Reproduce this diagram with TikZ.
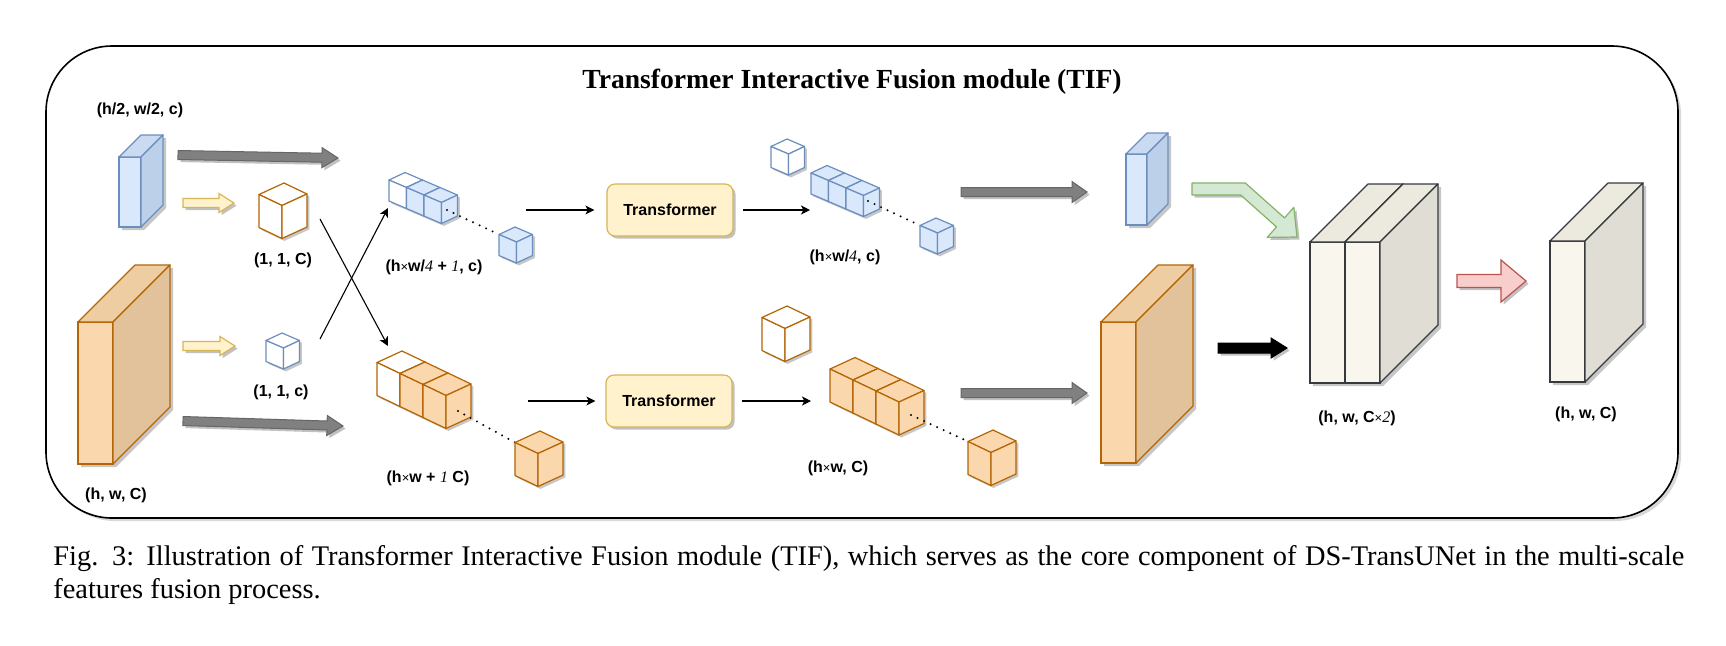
\documentclass[tikz,border=0pt]{standalone}
\usepackage{fontspec}
\setmainfont{Liberation Serif}
\setsansfont{Liberation Sans}
\usetikzlibrary{arrows.meta, calc, shadows}

\definecolor{blueF}{HTML}{DAE8FC}
\definecolor{blueT}{HTML}{C9DAF1}
\definecolor{blueS}{HTML}{BDD0EA}
\definecolor{blueL}{HTML}{6C8EBF}
\definecolor{orangeF}{HTML}{FAD7AC}
\definecolor{orangeT}{HTML}{EFCDA2}
\definecolor{orangeS}{HTML}{E2C29B}
\definecolor{orangeL}{HTML}{B46504}
\definecolor{paperF}{HTML}{F9F7ED}
\definecolor{paperT}{HTML}{ECEADF}
\definecolor{paperS}{HTML}{E0DED4}
\definecolor{paperL}{HTML}{36393D}
\definecolor{yellowF}{HTML}{FFF2CC}
\definecolor{yellowL}{HTML}{D6B656}
\definecolor{greenF}{HTML}{D5E8D4}
\definecolor{greenL}{HTML}{82B366}
\definecolor{redF}{HTML}{F8CECC}
\definecolor{redL}{HTML}{B85450}

\tikzset{
  small cube/.style={x={(8.75pt,-3.75pt)}, y={(8pt,3.75pt)}, z={(0pt,-10.5pt)}, line width=0.6pt, line join=round},
  big cube/.style={x={(11.5pt,-5.5pt)}, y={(12.5pt,5.75pt)}, z={(0pt,-16.5pt)}, line width=0.6pt, line join=round},
  cube shadow/.style={fill=black!22, xshift=1.2pt, yshift=-1.2pt},
  slab shadow/.style={fill=black!22, xshift=1.5pt, yshift=-1.5pt},
  soft shadow/.style={drop shadow={shadow xshift=1.3pt, shadow yshift=-1.3pt, fill=black!30, opacity=0.8}},
  grey arrow/.style={fill=black!50, draw=black!60, line width=0.5pt, soft shadow},
  yellow arrow/.style={fill=yellowF, draw=yellowL, line width=0.6pt, soft shadow},
  black arrow/.style={fill=black, draw=black, line width=0.5pt, soft shadow},
  red arrow/.style={fill=redF, draw=redL, line width=0.6pt, soft shadow},
  link/.style={-{Stealth[length=4.5pt, width=4.5pt, inset=1.2pt]}, line width=0.55pt},
  dots/.style={line width=1.1pt, line cap=round, dash pattern=on 0pt off 3.6pt},
  dim/.style={font=\sffamily\bfseries\fontsize{8}{9.6}\selectfont, inner sep=0pt},
  transformer/.style={draw=yellowL, fill=yellowF, rounded corners=4pt, line width=0.6pt,
    minimum width=63pt, minimum height=26pt, soft shadow,
    font=\sffamily\bfseries\fontsize{8}{9.6}\selectfont},
}

% the three visible faces of a cube, drawn in the current x/y/z frame
\newcommand{\cubefaces}{%
  \filldraw (0,0,0) -- (1,0,0) -- (1,-1,0) -- (0,-1,0) -- cycle;
  \filldraw (0,-1,0) -- (1,-1,0) -- (1,-1,1) -- (0,-1,1) -- cycle;
  \filldraw (1,-1,0) -- (1,0,0) -- (1,0,1) -- (1,-1,1) -- cycle;
}
\newcommand{\cubeshadow}[1]{%
  \fill[cube shadow] (0,0,0) -- (#1,0,0) -- (#1,0,1) -- (#1,-1,1) -- (0,-1,1) -- (0,-1,0) -- cycle;
}
% feature map: front top-left x, y, width, height, depth, colour family
\newcommand{\slab}[6]{%
  \fill[slab shadow] (#1,#2+#4) -- (#1,#2) -- (#1+#5,#2-#5) -- (#1+#3+#5,#2-#5) -- (#1+#3+#5,#2+#4-#5) -- (#1+#3,#2+#4) -- cycle;
  \filldraw[draw=#6L, fill=#6F, line width=0.6pt] (#1,#2) rectangle (#1+#3,#2+#4);
  \filldraw[draw=#6L, fill=#6T, line width=0.6pt, line join=round] (#1,#2) -- (#1+#5,#2-#5) -- (#1+#3+#5,#2-#5) -- (#1+#3,#2) -- cycle;
  \filldraw[draw=#6L, fill=#6S, line width=0.6pt, line join=round] (#1+#3,#2) -- (#1+#3+#5,#2-#5) -- (#1+#3+#5,#2+#4-#5) -- (#1+#3,#2+#4) -- cycle;
}
% block arrow: style, tail, tip, half shaft, half head, head length
\newcommand{\blockarrow}[6]{%
  \coordinate (ba-h) at ($(#3)!#6!(#2)$);
  \filldraw[#1] ($(#2)!#4!90:(#3)$) -- ($(ba-h)!#4!90:(#3)$) -- ($(ba-h)!#5!90:(#3)$) -- (#3)
    -- ($(ba-h)!#5!-90:(#3)$) -- ($(ba-h)!#4!-90:(#3)$) -- ($(#2)!#4!-90:(#3)$) -- cycle;
}
\newcommand{\tnum}[1]{{\rmfamily\mdseries\itshape #1}}
\newcommand{\tx}{{\mdseries\fontsize{6.5}{7}\selectfont ×}}

\begin{document}
\begin{tikzpicture}[x=0.5pt, y=-0.5pt]
\useasboundingbox (0,0) rectangle (1726,645);
\fill[white] (0,0) rectangle (1726,645);

% Frame
\draw[line width=0.8pt, rounded corners=33pt, drop shadow={shadow xshift=1.5pt, shadow yshift=-1.5pt, fill=black!30}, fill=white]
  (46,46) rectangle (1678,518);
\node[font=\bfseries\fontsize{13.8}{16}\selectfont, anchor=base, inner sep=0pt] (title) at (852,88)
  {Transformer Interactive Fusion module (TIF)};

% Inputs
\slab{119}{157}{22}{70}{22}{blue}
\slab{78}{322}{35}{142}{57}{orange}
\node[dim] (inSmall) at (140,110) {(h/2, w/2, c)};
\node[dim] (inBig) at (116,495) {(h, w, C)};

\blockarrow{grey arrow}{178,155}{338,158}{2.25pt}{5pt}{8pt}
\blockarrow{grey arrow}{183,421}{343,426}{2.25pt}{5pt}{8pt}
\blockarrow{yellow arrow}{183,203}{234,203}{2.25pt}{4.75pt}{7.5pt}
\blockarrow{yellow arrow}{183,346}{235,346}{2.25pt}{4.75pt}{7.5pt}

% Class tokens
\begin{scope}[shift={(284,183)}, big cube, draw=orangeL, fill=white]
  \cubeshadow{1} \cubefaces
\end{scope}
\begin{scope}[shift={(282,333)}, small cube, draw=blueL, fill=white]
  \cubeshadow{1} \cubefaces
\end{scope}
\node[dim] (tokBig) at (283,260) {(1, 1, C)};
\node[dim] (tokSmall) at (281,392) {(1, 1, c)};

% Swapped tokens
\coordinate (crossA1) at (320,219);
\coordinate (crossA2) at (388,346);
\coordinate (crossB1) at (320,339);
\coordinate (crossB2) at (388,208);
\draw[link] (crossA1) -- (crossA2);
\draw[link] (crossB1) -- (crossB2);

% Token sequences in
\begin{scope}[shift={(405,172.5)}, small cube] \cubeshadow{3} \end{scope}
\foreach \i/\col in {0/white,1/blueF,2/blueF}{
  \begin{scope}[shift={(405+17.5*\i,172.5+7.5*\i)}, small cube, draw=blueL, fill=\col]
    \cubefaces
  \end{scope}
}
\coordinate (dotA1) at (447,210);
\coordinate (dotA2) at (499,234.5);
\draw[dots] (dotA1) -- (dotA2);
\begin{scope}[shift={(515,227)}, small cube, draw=blueL, fill=blueF]
  \cubeshadow{1} \cubefaces
\end{scope}
\node[dim] (seqA) at (434,267) {(h\tx w/\tnum{4} + \tnum{1}, c)};

\begin{scope}[shift={(402,351)}, big cube] \cubeshadow{3} \end{scope}
\foreach \i/\col in {0/white,1/orangeF,2/orangeF}{
  \begin{scope}[shift={(402+23*\i,351+11*\i)}, big cube, draw=orangeL, fill=\col]
    \cubefaces
  \end{scope}
}
\coordinate (dotB1) at (458,411);
\coordinate (dotB2) at (515,442.5);
\draw[dots] (dotB1) -- (dotB2);
\begin{scope}[shift={(540,431)}, big cube, draw=orangeL, fill=orangeF]
  \cubeshadow{1} \cubefaces
\end{scope}
\node[dim] (seqB) at (428,478) {(h\tx w + \tnum{1} C)};

% Transformers
\node[transformer] (trA) at (670,210) {Transformer};
\node[transformer] (trB) at (669,401) {Transformer};
\coordinate (inA) at (526,210);
\coordinate (outA) at (810,210);
\coordinate (inB) at (528,401);
\coordinate (outB) at (811,401);
\draw[link, shorten >=6pt] (inA) -- (trA.west);
\draw[link, shorten <=4.5pt] (trA.east) -- (outA);
\draw[link, shorten >=5pt] (inB) -- (trB.west);
\draw[link, shorten <=4.5pt] (trB.east) -- (outB);

% Token sequences out
\begin{scope}[shift={(787,139)}, small cube, draw=blueL, fill=white]
  \cubeshadow{1} \cubefaces
\end{scope}
\begin{scope}[shift={(827,165.5)}, small cube] \cubeshadow{3} \end{scope}
\foreach \i in {0,1,2}{
  \begin{scope}[shift={(827+17.5*\i,165.5+7.5*\i)}, small cube, draw=blueL, fill=blueF]
    \cubefaces
  \end{scope}
}
\coordinate (dotC1) at (868,201);
\coordinate (dotC2) at (920,225.5);
\draw[dots] (dotC1) -- (dotC2);
\begin{scope}[shift={(936,218)}, small cube, draw=blueL, fill=blueF]
  \cubeshadow{1} \cubefaces
\end{scope}
\node[dim] (seqC) at (845,257) {(h\tx w/\tnum{4}, c)};

\begin{scope}[shift={(787,306)}, big cube, draw=orangeL, fill=white]
  \cubeshadow{1} \cubefaces
\end{scope}
\begin{scope}[shift={(855,357.5)}, big cube] \cubeshadow{3} \end{scope}
\foreach \i in {0,1,2}{
  \begin{scope}[shift={(855+23*\i,357.5+11*\i)}, big cube, draw=orangeL, fill=orangeF]
    \cubefaces
  \end{scope}
}
\coordinate (dotD1) at (911,415);
\coordinate (dotD2) at (968,441.5);
\draw[dots] (dotD1) -- (dotD2);
\begin{scope}[shift={(993,430)}, big cube, draw=orangeL, fill=orangeF]
  \cubeshadow{1} \cubefaces
\end{scope}
\node[dim] (seqD) at (838,468) {(h\tx w, C)};

% Reshape and fuse
\blockarrow{grey arrow}{961,192}{1087,192}{2.25pt}{5.25pt}{7.5pt}
\blockarrow{grey arrow}{961,393}{1087,393}{2.25pt}{5.25pt}{7.5pt}
\slab{1126}{154}{21}{71}{21}{blue}
\slab{1101}{322}{35}{141}{57}{orange}

\filldraw[fill=greenF, draw=greenL, line width=0.6pt, line join=round, soft shadow]
  (1192,183) -- (1245.3,183) -- (1284.5,217.9) -- (1293.8,207.4) -- (1297,237)
  -- (1267.2,237.4) -- (1276.5,226.9) -- (1240.7,195) -- (1192,195) -- cycle;
\blockarrow{black arrow}{1218,348}{1287,348}{2.5pt}{5pt}{8pt}

\slab{1310}{242}{35}{141}{58}{paper}
\slab{1345}{242}{35}{141}{58}{paper}
\node[dim] (catOut) at (1357,418) {(h, w, C\tx\tnum{2})};

\blockarrow{red arrow}{1457,281}{1526,281}{3.25pt}{10.5pt}{12.5pt}
\slab{1550}{241}{35}{141}{58}{paper}
\node[dim] (fuseOut) at (1586,414) {(h, w, C)};

% Caption
\node[anchor=north west, inner sep=0pt, align=left,
  font=\fontsize{14.2}{16.5}\selectfont] (caption) at (53,545)
  {\makebox[815.5pt][s]{Fig. 3: Illustration of Transformer Interactive Fusion module (TIF), which serves as the core component of DS-TransUNet in the multi-scale}\\
   features fusion process.};
\end{tikzpicture}
\end{document}
